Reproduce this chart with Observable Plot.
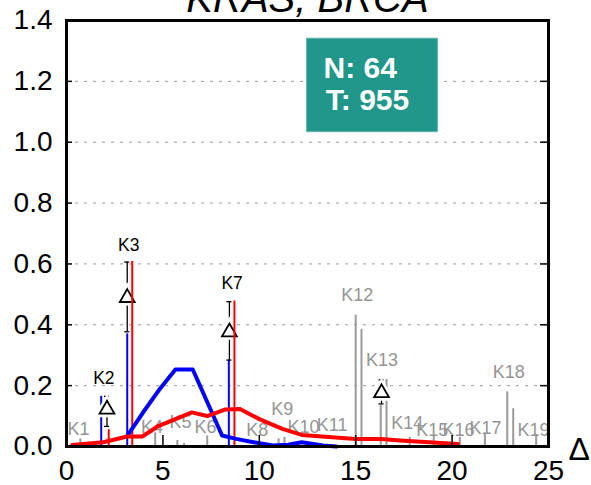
<!DOCTYPE html>
<html><head><meta charset="utf-8">
<script src="https://cdn.jsdelivr.net/npm/d3@7"></script>
<script src="https://cdn.jsdelivr.net/npm/@observablehq/plot@0.6"></script>
<style>
body{margin:0;background:#fff;}
#chart{width:591px;height:485px;overflow:hidden;position:relative}
</style>
</head><body><div id="chart"></div>
<script>
// ---- data ----
const title = "KRAS, BRCA";
const xTicks = [0, 5, 10, 15, 20, 25];
const yTicks = [0, 0.2, 0.4, 0.6, 0.8, 1.0, 1.2, 1.4];
const gridTicks = [0.2, 0.4, 0.6, 0.8, 1.0, 1.2];
const innerXTicks = [5, 10, 15, 20];
const xLabel = "Δ";

const blueLineX = [3.15, 3.95, 4.85, 5.65, 6.55, 8.07, 8.8, 9.7, 10.7, 11.5, 12.2, 13.3, 14.0];
const blueLineY = [0.035, 0.11, 0.19, 0.253, 0.253, 0.036, 0.025, 0.014, 0.003, 0.006, 0.014, 0.003, 0.0];
const redLineX = [0.3, 1.9, 3.15, 3.93, 4.7, 5.65, 6.5, 7.3, 8.25, 9.0, 10.0, 11.2, 12.2, 15.0, 16.3, 17.3, 20.3];
const redLineY = [0.005, 0.014, 0.033, 0.033, 0.065, 0.09, 0.112, 0.1, 0.122, 0.123, 0.09, 0.058, 0.038, 0.025, 0.025, 0.02, 0.008];

const blueSpikeX = [1.80, 3.15, 8.42];
const blueSpikeH = [0.165, 0.37, 0.284];
const redSpikeX = [2.19, 3.41, 8.71];
const redSpikeH = [0.055, 0.608, 0.478];
const graySpikeX = [0.72, 4.6, 5.75, 6.1, 7.3, 11.0, 11.3, 15.0, 15.3, 16.3, 16.6, 17.8, 19.05, 20.4, 21.7, 22.86, 23.17, 24.36];
const graySpikeH = [0.025, 0.045, 0.02, 0.01, 0.035, 0.025, 0.03, 0.432, 0.385, 0.135, 0.22, 0.03, 0.035, 0.03, 0.04, 0.18, 0.124, 0.04];

const triX = [2.1, 3.15, 8.45, 16.34];
const triY = [0.122, 0.489, 0.376, 0.176];
const errLo = [0.066, 0.377, 0.284, 0.14];
const errHi = [0.165, 0.606, 0.476, 0.219];

const kLabels = ["K1","K2","K3","K4","K5","K6","K7","K8","K9","K10","K11","K12","K13","K14","K15","K16","K17","K18","K19"];
const kLabelX = [0.62, 1.94, 3.23, 4.44, 5.91, 7.21, 8.59, 9.89, 11.19, 12.29, 13.78, 15.08, 16.37, 17.67, 18.97, 20.33, 21.73, 22.94, 24.22];
const kLabelY = [0.056, 0.223, 0.661, 0.063, 0.08, 0.063, 0.535, 0.053, 0.124, 0.063, 0.069, 0.497, 0.283, 0.075, 0.053, 0.053, 0.059, 0.244, 0.053];
const kLabelDark = ["K2", "K3", "K7"];

const statN = 64;
const statT = 955;

// ---- build tables ----
const blueLine = blueLineX.map((x, i) => ({x, y: blueLineY[i]}));
const redLine = redLineX.map((x, i) => ({x, y: redLineY[i]}));
const blueSpikes = blueSpikeX.map((x, i) => ({x, h: blueSpikeH[i]}));
const redSpikes = redSpikeX.map((x, i) => ({x, h: redSpikeH[i]}));
const graySpikes = graySpikeX.map((x, i) => ({x, h: graySpikeH[i]}));
const tris = triX.map((x, i) => ({x, y: triY[i], lo: errLo[i], hi: errHi[i]}));
const labels = kLabels.map((t, i) => ({t, x: kLabelX[i], y: kLabelY[i], dark: kLabelDark.includes(t)}));
const capHalf = 0.13;
const box = [{x1: 12.48, x2: 19.26, y1: 1.033, y2: 1.340}];
const boxText = [{t: `N: ${statN}`, x: 13.33, y: 1.2115}, {t: `T: ${statT}`, x: 13.45, y: 1.105}];

const font = "'Liberation Sans', Arial, Helvetica, sans-serif";

const chart = Plot.plot({
  width: 591, height: 485,
  marginLeft: 66, marginRight: 43, marginTop: 20, marginBottom: 39,
  x: {domain: [0, 25]},
  y: {domain: [0, 1.4]},
  style: {fontFamily: font, background: "white", overflow: "visible"},
  marks: [
    Plot.ruleY(gridTicks, {y: d => d, stroke: "#9a9a9a", strokeWidth: 1, strokeDasharray: "3,6"}),
    Plot.text(labels.filter(d => !d.dark), {x: "x", y: "y", text: "t", fill: "#959595", fontSize: 18}),
    Plot.ruleX(graySpikes, {x: "x", y1: 0, y2: "h", stroke: "#9a9a9a", strokeWidth: 2}),
    Plot.ruleX(blueSpikes, {x: "x", y1: 0, y2: "h", stroke: "#0000ff", strokeWidth: 2}),
    Plot.ruleX(tris, {x: "x", y1: "lo", y2: "hi", stroke: "black", strokeWidth: 1.3}),
    Plot.ruleY(tris, {y: "hi", x1: d => d.x - capHalf, x2: d => d.x + capHalf, stroke: "black", strokeWidth: 1.3}),
    Plot.ruleY(tris, {y: "lo", x1: d => d.x - capHalf, x2: d => d.x + capHalf, stroke: "black", strokeWidth: 1.3}),
    Plot.dot(tris, {x: "x", y: "y", symbol: "triangle", r: 5.5, fill: "white", stroke: "white", strokeWidth: 7}),
    Plot.dot(tris, {x: "x", y: "y", symbol: "triangle", r: 5.5, fill: "white", stroke: "black", strokeWidth: 1.8}),
    Plot.ruleX(redSpikes, {x: "x", y1: 0, y2: "h", stroke: "#ff0000", strokeWidth: 2}),
    Plot.line(blueLine, {x: "x", y: "y", stroke: "#0000ff", strokeWidth: 4, strokeLinejoin: "round"}),
    Plot.line(redLine, {x: "x", y: "y", stroke: "#ff0000", strokeWidth: 4, strokeLinejoin: "round"}),
    Plot.text(labels.filter(d => d.dark), {x: "x", y: "y", text: "t", fill: "black", fontSize: 17.5}),
    Plot.frame({stroke: "black", strokeWidth: 3}),
    Plot.ruleY(gridTicks, {y: d => d, insetRight: 476, stroke: "black", strokeWidth: 1.5}),
    Plot.ruleY(gridTicks, {y: d => d, insetLeft: 474, stroke: "black", strokeWidth: 1.5}),
    Plot.ruleX(innerXTicks, {x: d => d, insetTop: 415, stroke: "black", strokeWidth: 1.5}),
    Plot.rect(box, {x1: "x1", x2: "x2", y1: "y1", y2: "y2", fill: "#21968a", stroke: "#5bb3aa", strokeWidth: 1}),
    Plot.text(boxText, {x: "x", y: "y", text: "t", fill: "white", fontSize: 30, fontWeight: "bold", textAnchor: "start", lineAnchor: "bottom"}),
    Plot.axisX(xTicks, {tickSize: 0, tickPadding: 14, fontSize: 28, tickFormat: d => String(d), label: null}),
    Plot.axisY(yTicks, {tickSize: 0, tickPadding: 14, fontSize: 28, tickFormat: d => d.toFixed(1), label: null}),
    Plot.text([xLabel], {frameAnchor: "bottom-right", dx: 20, dy: 3, textAnchor: "start", lineAnchor: "middle", fontSize: 32, fill: "black"}),
    Plot.text([title], {frameAnchor: "top", dy: -9, lineAnchor: "bottom", fontSize: 40, fontStyle: "italic", fill: "black"})
  ]
});
document.getElementById("chart").appendChild(chart);
</script>
</body></html>
